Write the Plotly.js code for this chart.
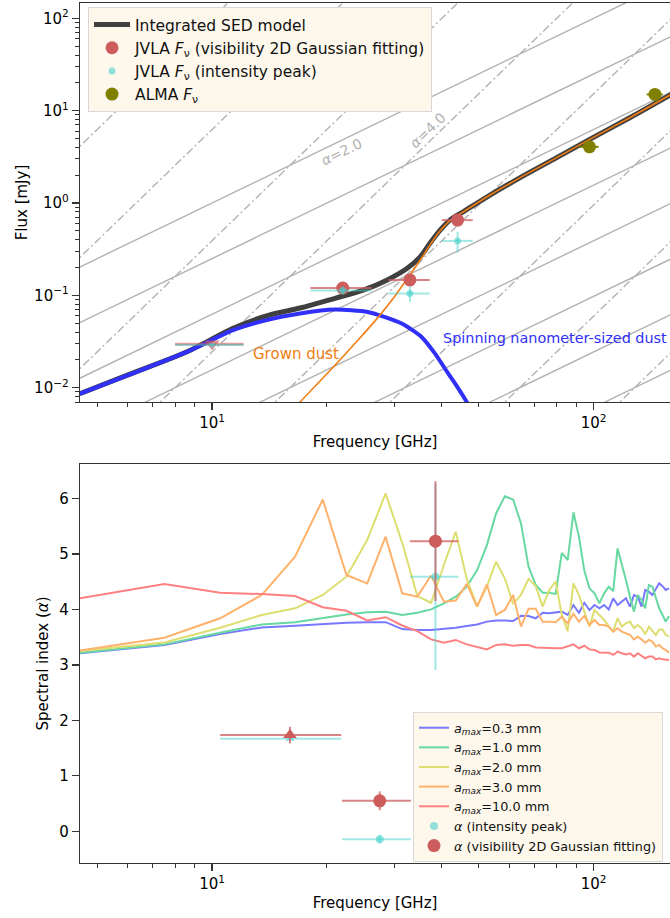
<!DOCTYPE html>
<html>
<head>
<meta charset="utf-8">
<script src="https://cdn.plot.ly/plotly-3.0.1.min.js"></script>
<style>html,body{margin:0;padding:0;background:#fff;}#chart{width:670px;height:918px;}</style>
</head>
<body>
<div id="chart"></div>
<script>
// ---------- Top panel: SED ----------
const sedFreq = [4.5, 6.0, 8.6, 11.35, 13.9, 17.0, 21.0, 24.9, 28.7, 32.4, 35.1, 37.2, 39.6, 42.0, 45.5, 53.5, 64.7, 80, 96.8, 125, 160];
const sedFlux = [0.0086, 0.0137, 0.0245, 0.044, 0.060, 0.073, 0.093, 0.114, 0.146, 0.195, 0.261, 0.365, 0.508, 0.653, 0.803, 1.22, 1.92, 3.1, 4.8, 8.5, 15.1];

const spinFreq = [4.5, 6.0, 8.6, 11.35, 13.9, 17.0, 21.0, 25.6, 31.4, 35.4, 38.4, 41.5, 44.0, 46.5, 50];
const spinFlux = [0.0086, 0.0136, 0.0244, 0.042, 0.054, 0.0637, 0.0703, 0.0662, 0.0496, 0.0355, 0.0234, 0.0144, 0.0101, 0.0070, 0.0040];

const grownFreq = [15.5, 17.0, 21.0, 24.0, 27.3, 30.5, 32.4, 35.1, 37.2, 39.6, 42.0, 45.5, 53.5, 64.7, 80, 96.8, 125, 160];
const grownFlux = [0.0047, 0.0070, 0.0175, 0.032, 0.0585, 0.105, 0.150, 0.240, 0.350, 0.50, 0.645, 0.80, 1.22, 1.92, 3.1, 4.8, 8.5, 15.1];

// JVLA detections
const jvlaFreq = [22.0, 33.0, 44.0];
const jvlaFreqMinus = [3.9, 4.0, 4.0];
const jvlaFreqPlus = [4.2, 4.2, 4.2];
const jvlaVisFlux = [0.120, 0.147, 0.653];
const jvlaVisErr = [0.008, 0.012, 0.04];
const jvlaPeakFlux = [0.113, 0.105, 0.389];
const jvlaPeakErr = [0.012, 0.02, 0.1];
// JVLA upper limit (X band)
const limFreq = [10.0];
const limFreqMinus = [2.0];
const limFreqPlus = [2.1];
const limVisFlux = [0.030];
const limPeakFlux = [0.029];
// ALMA
const almaFreq = [97.5, 144.7];
const almaFreqErr = [5.5, 7.0];
const almaFlux = [4.06, 15.0];
const almaErr = [0.3, 0.8];

// reference power laws F = refFlux * (nu/nu_k)^alpha
const refFreqs = [1, 2, 4, 8, 16, 32, 64, 128, 256];
const refFlux = 0.01;
const refAlphas = [2.0, 4.0];

// ---------- Bottom panel: spectral index ----------
const amaxFreq = [4.5, 7.5, 10.5, 13.5, 16.5, 19.5, 22.5, 25.5, 28.5, 31.5, 34.5, 37.5, 40.5, 43.5, 46.5, 49.5, 52.5, 55.5, 58.5, 61.5, 64.5, 67.5, 70.5, 73.5, 76.5, 79.5, 82.5, 85.5, 88.5, 91.5, 94.5, 97.5, 100.5, 103.5, 106.5, 109.5, 112.5, 115.5, 118.5, 121.5, 124.5, 127.5, 130.5, 133.5, 136.5, 139.5, 142.5, 145.5, 148.5, 151.5, 154.5, 157.5];
const amaxLabels = ['0.3', '1.0', '2.0', '3.0', '10.0'];
const alpha_03 = [3.21, 3.36, 3.555, 3.676, 3.705, 3.74, 3.76, 3.77, 3.77, 3.645, 3.63, 3.63, 3.645, 3.67, 3.70, 3.73, 3.78, 3.80, 3.80, 3.79, 3.885, 3.88, 3.84, 3.94, 3.93, 3.94, 3.96, 3.90, 4.08, 3.94, 4.12, 3.99, 4.08, 4.02, 4.08, 4.00, 4.20, 4.08, 4.14, 4.20, 4.05, 4.26, 4.23, 4.05, 4.35, 4.32, 4.26, 4.38, 4.47, 4.42, 4.35, 4.38];
const alpha_10 = [3.22, 3.37, 3.58, 3.73, 3.77, 3.85, 3.91, 3.95, 3.96, 3.90, 3.94, 4.00, 4.11, 4.23, 4.41, 4.71, 5.16, 5.73, 6.04, 5.98, 5.55, 4.77, 4.44, 4.30, 4.30, 4.28, 5.02, 4.89, 5.75, 5.31, 4.70, 4.38, 4.29, 4.11, 4.29, 4.41, 4.33, 5.10, 4.83, 4.53, 4.23, 3.96, 4.26, 4.17, 4.02, 4.44, 4.41, 4.20, 4.02, 3.90, 3.78, 3.88];
const alpha_20 = [3.25, 3.405, 3.67, 3.90, 4.02, 4.26, 4.59, 5.25, 6.09, 5.20, 4.24, 4.12, 4.80, 5.40, 4.55, 4.06, 4.41, 4.86, 4.56, 4.10, 4.26, 4.55, 4.42, 4.05, 4.35, 4.50, 3.90, 3.61, 4.47, 4.26, 3.96, 3.69, 3.99, 3.90, 3.81, 3.70, 3.60, 3.84, 3.69, 3.75, 3.78, 3.66, 3.72, 3.66, 3.555, 3.69, 3.61, 3.54, 3.64, 3.64, 3.54, 3.51];
const alpha_30 = [3.26, 3.49, 3.84, 4.26, 4.95, 5.98, 4.62, 4.47, 5.31, 4.29, 4.23, 4.61, 4.14, 4.16, 4.46, 4.05, 4.45, 3.90, 3.99, 4.26, 3.69, 4.01, 4.01, 3.78, 3.78, 3.77, 3.87, 3.75, 3.92, 3.78, 3.88, 3.72, 3.81, 3.72, 3.72, 3.69, 3.60, 3.66, 3.60, 3.57, 3.54, 3.46, 3.51, 3.46, 3.40, 3.45, 3.42, 3.33, 3.36, 3.30, 3.27, 3.22];
const alpha_100 = [4.20, 4.456, 4.30, 4.276, 4.24, 4.04, 3.975, 3.80, 3.86, 3.71, 3.61, 3.46, 3.40, 3.45, 3.37, 3.33, 3.28, 3.36, 3.37, 3.345, 3.36, 3.36, 3.315, 3.31, 3.30, 3.30, 3.30, 3.33, 3.37, 3.30, 3.345, 3.28, 3.27, 3.225, 3.225, 3.22, 3.18, 3.24, 3.21, 3.19, 3.21, 3.15, 3.21, 3.16, 3.12, 3.15, 3.15, 3.10, 3.12, 3.10, 3.10, 3.09];

// measured spectral indices
const aFreq = [27.5, 38.5];
const aFreqMinus = [5.6, 5.5];
const aFreqPlus = [5.7, 5.7];
const aVis = [0.55, 5.23];
const aVisErr = [0.17, 1.08];
const aPeak = [-0.14, 4.59];
const aPeakErr = [0.08, 1.68];
const aLimFreq = [16.0];
const aLimFreqMinus = [5.5];
const aLimFreqPlus = [5.8];
const aLimVis = [1.735];
const aLimVisErr = [0.15];
const aLimPeak = [1.67];

// ---------- styling ----------
const FONT = 'DejaVu Sans, Verdana, sans-serif';
const RED = '#cd5c5c';
const RED_A = 'rgba(205,92,92,0.75)';
const CYAN = 'rgba(72,209,204,0.6)';
const CYAN_BAR = 'rgba(72,209,204,0.5)';
const OLIVE = '#808000';
const GUIDE = '#b2b2b2';

const traces = [];

// guide lines
const guideX = [1, 1000];
refAlphas.forEach((a, ai) => {
  refFreqs.forEach(nu0 => {
    traces.push({
      x: guideX, y: guideX.map(v => refFlux * Math.pow(v / nu0, a)),
      mode: 'lines', xaxis: 'x', yaxis: 'y', showlegend: false, hoverinfo: 'skip',
      line: {color: GUIDE, width: 1.4, dash: ai === 0 ? 'solid' : '8px,3px,2px,3px'}
    });
  });
});

// model curves
traces.push({x: sedFreq, y: sedFlux, mode: 'lines', name: 'Integrated SED model',
  xaxis: 'x', yaxis: 'y', legend: 'legend', legendgroup: 'g1',
  line: {color: '#404040', width: 5, shape: 'spline', smoothing: 0.8}});
traces.push({x: spinFreq, y: spinFlux, mode: 'lines', showlegend: false,
  xaxis: 'x', yaxis: 'y', line: {color: '#3030f8', width: 4, shape: 'spline', smoothing: 0.6}});
traces.push({x: grownFreq, y: grownFlux, mode: 'lines', showlegend: false,
  xaxis: 'x', yaxis: 'y', line: {color: '#f07e14', width: 1.6, shape: 'spline', smoothing: 0.8}});

// upper limits (10 GHz)
traces.push({x: limFreq, y: limVisFlux, mode: 'markers', showlegend: false, xaxis: 'x', yaxis: 'y',
  marker: {symbol: 'triangle-down', size: 13, color: 'rgba(205,92,92,0.7)'},
  error_x: {type: 'data', symmetric: false, array: limFreqPlus, arrayminus: limFreqMinus, color: 'rgba(205,92,92,0.6)', thickness: 2, width: 0}});
traces.push({x: limFreq, y: limPeakFlux, mode: 'markers', showlegend: false, xaxis: 'x', yaxis: 'y',
  marker: {symbol: 'triangle-down', size: 7, color: CYAN},
  error_x: {type: 'data', symmetric: false, array: limFreqPlus, arrayminus: limFreqMinus, color: 'rgba(72,160,160,0.55)', thickness: 2, width: 0}});

// JVLA detections
traces.push({x: jvlaFreq, y: jvlaVisFlux, mode: 'markers', name: 'JVLA <i>F</i><sub>ν</sub> (visibility 2D Gaussian fitting)',
  xaxis: 'x', yaxis: 'y', legend: 'legend', legendgroup: 'g2',
  marker: {symbol: 'circle', size: 13, color: RED},
  error_x: {type: 'data', symmetric: false, array: jvlaFreqPlus, arrayminus: jvlaFreqMinus, color: RED_A, thickness: 2, width: 0},
  error_y: {type: 'data', array: jvlaVisErr, color: RED_A, thickness: 2, width: 0}});
traces.push({x: jvlaFreq, y: jvlaPeakFlux, mode: 'markers', name: 'JVLA <i>F</i><sub>ν</sub> (intensity peak)',
  xaxis: 'x', yaxis: 'y', legend: 'legend', legendgroup: 'g3',
  marker: {symbol: 'circle', size: 7, color: CYAN},
  error_x: {type: 'data', symmetric: false, array: jvlaFreqPlus, arrayminus: jvlaFreqMinus, color: CYAN_BAR, thickness: 2, width: 0},
  error_y: {type: 'data', array: jvlaPeakErr, color: CYAN_BAR, thickness: 2, width: 0}});
traces.push({x: almaFreq, y: almaFlux, mode: 'markers', name: 'ALMA <i>F</i><sub>ν</sub>',
  xaxis: 'x', yaxis: 'y', legend: 'legend', legendgroup: 'g4',
  marker: {symbol: 'circle', size: 13, color: OLIVE},
  error_x: {type: 'data', array: almaFreqErr, color: OLIVE, thickness: 2, width: 0},
  error_y: {type: 'data', array: almaErr, color: OLIVE, thickness: 2, width: 0}});

// bottom panel curves
const amaxSeries = [alpha_03, alpha_10, alpha_20, alpha_30, alpha_100];
const amaxColors = ['#7878ff', '#66d8a0', '#dede70', '#ffb26b', '#ff8080'];
amaxSeries.forEach((s, i) => {
  traces.push({x: amaxFreq, y: s, mode: 'lines', xaxis: 'x2', yaxis: 'y2',
    name: '<i>a</i><sub><i>max</i></sub>=' + amaxLabels[i] + ' mm', legend: 'legend2', legendgroup: 'b' + i,
    line: {color: amaxColors[i], width: 2}});
});
traces.push({x: aLimFreq, y: aLimPeak, mode: 'markers', showlegend: false, xaxis: 'x2', yaxis: 'y2',
  marker: {symbol: 'triangle-up', size: 8, color: CYAN},
  error_x: {type: 'data', symmetric: false, array: aLimFreqPlus, arrayminus: aLimFreqMinus, color: CYAN_BAR, thickness: 2, width: 0}});
traces.push({x: aLimFreq, y: aLimVis, mode: 'markers', showlegend: false, xaxis: 'x2', yaxis: 'y2',
  marker: {symbol: 'triangle-up', size: 12, color: RED},
  error_x: {type: 'data', symmetric: false, array: aLimFreqPlus, arrayminus: aLimFreqMinus, color: RED_A, thickness: 2, width: 0},
  error_y: {type: 'data', array: aLimVisErr, color: RED_A, thickness: 2, width: 0}});
traces.push({x: aFreq, y: aPeak, mode: 'markers', name: '<i>α</i> (intensity peak)', xaxis: 'x2', yaxis: 'y2',
  legend: 'legend2', legendgroup: 'b5',
  marker: {symbol: 'circle', size: 8, color: CYAN},
  error_x: {type: 'data', symmetric: false, array: aFreqPlus, arrayminus: aFreqMinus, color: CYAN_BAR, thickness: 2, width: 0},
  error_y: {type: 'data', array: aPeakErr, color: CYAN_BAR, thickness: 2, width: 0}});
traces.push({x: aFreq, y: aVis, mode: 'markers', name: '<i>α</i> (visibility 2D Gaussian fitting)', xaxis: 'x2', yaxis: 'y2',
  legend: 'legend2', legendgroup: 'b6',
  marker: {symbol: 'circle', size: 13, color: RED},
  error_x: {type: 'data', symmetric: false, array: aFreqPlus, arrayminus: aFreqMinus, color: RED_A, thickness: 2, width: 0},
  error_y: {type: 'data', array: aVisErr, color: RED_A, thickness: 2, width: 0}});

const AX = '#333333';
const minorLogX = [5, 6, 7, 8, 9, 20, 30, 40, 50, 60, 70, 80, 90];
const minorLogY = [];
[0.001, 0.01, 0.1, 1, 10, 100].forEach(d => { for (let m = 2; m <= 9; m++) minorLogY.push(m * d); });

function xAxis(anchor) {
  return {type: 'log', range: [0.654, 2.2], anchor: anchor, domain: [0, 1],
    showline: true, linecolor: AX, linewidth: 1.3, mirror: true, showgrid: false, zeroline: false,
    ticks: 'outside', ticklen: 7, tickwidth: 1.2, tickcolor: AX,
    tickmode: 'array', tickvals: [10, 100], ticktext: ['10<sup>1</sup>', '10<sup>2</sup>'],
    tickfont: {size: 15, color: '#000'},
    minor: {ticks: 'outside', ticklen: 4, tickwidth: 1, tickcolor: AX, tickmode: 'array', tickvals: minorLogX, showgrid: false},
    title: {text: 'Frequency [GHz]', font: {size: 15, color: '#000'}, standoff: 5}};
}

const layout = {
  width: 670, height: 918,
  margin: {l: 80, r: 0, t: 3, b: 55},
  paper_bgcolor: '#fff', plot_bgcolor: '#fff',
  font: {family: FONT, color: '#000'},
  showlegend: true,
  xaxis: xAxis('y'),
  xaxis2: xAxis('y2'),
  yaxis: {type: 'log', range: [-2.155, 2.166], domain: [0.536, 1], anchor: 'x',
    showline: true, linecolor: AX, linewidth: 1.3, mirror: false, showgrid: false, zeroline: false,
    ticks: 'outside', ticklen: 7, tickwidth: 1.2, tickcolor: AX,
    tickmode: 'array', tickvals: [0.01, 0.1, 1, 10, 100],
    ticktext: ['10<sup>−2</sup>', '10<sup>−1</sup>', '10<sup>0</sup>', '10<sup>1</sup>', '10<sup>2</sup>'],
    tickfont: {size: 15, color: '#000'},
    minor: {ticks: 'outside', ticklen: 4, tickwidth: 1, tickcolor: AX, tickmode: 'array', tickvals: minorLogY, showgrid: false},
    title: {text: 'Flux [mJy]', font: {size: 15, color: '#000'}, standoff: 3}},
  yaxis2: {range: [-0.57, 6.62], domain: [0, 0.4639], anchor: 'x2',
    showline: true, linecolor: AX, linewidth: 1.3, mirror: false, showgrid: false, zeroline: false,
    ticks: 'outside', ticklen: 7, tickwidth: 1.2, tickcolor: AX,
    tickmode: 'array', tickvals: [0, 1, 2, 3, 4, 5, 6],
    tickfont: {size: 15, color: '#000'},
    title: {text: 'Spectral index (<i>α</i>)', font: {size: 15, color: '#000'}, standoff: 7}},
  legend: {x: 0.0136, y: 0.9953, xanchor: 'left', yanchor: 'top',
    bgcolor: '#fdf8eb', bordercolor: '#d8d8d8', borderwidth: 1,
    font: {size: 15.5, color: '#111'}, tracegroupgap: 0, itemwidth: 36},
  legend2: {x: 0.5644, y: 0.1757, xanchor: 'left', yanchor: 'top',
    bgcolor: '#fdf8eb', bordercolor: '#d8d8d8', borderwidth: 1,
    font: {size: 12.8, color: '#111'}, tracegroupgap: 0, itemwidth: 30},
  annotations: [
    {xref: 'x', yref: 'y', x: Math.log10(21.8), y: Math.log10(3.56), text: '<i>α</i>=2.0', showarrow: false,
      textangle: -25.8, font: {size: 14, color: GUIDE}},
    {xref: 'x', yref: 'y', x: Math.log10(36.8), y: Math.log10(6.17), text: '<i>α</i>=4.0', showarrow: false,
      textangle: -44, font: {size: 14, color: GUIDE}},
    {xref: 'x', yref: 'y', x: Math.log10(16.6), y: -1.637, text: 'Grown dust', showarrow: false,
      font: {size: 15, color: '#f07e14'}},
    {xref: 'x', yref: 'y', x: Math.log10(39.7), y: -1.464, xanchor: 'left', text: 'Spinning nanometer-sized dust', showarrow: false,
      font: {size: 14.4, color: '#3030f8'}}
  ]
};

Plotly.newPlot('chart', traces, layout, {staticPlot: true, displayModeBar: false});
</script>
</body>
</html>
